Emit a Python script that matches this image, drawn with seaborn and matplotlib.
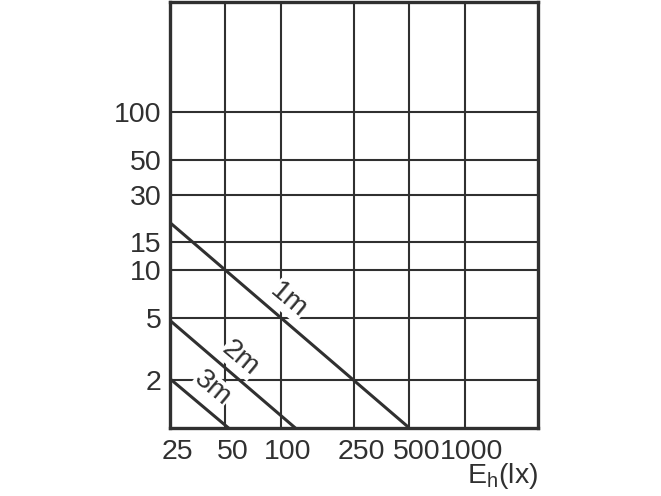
import pandas as pd
import seaborn as sns
import matplotlib.pyplot as plt
import matplotlib.transforms as mtransforms
from matplotlib.ticker import NullLocator

# values (log-log chart)
x_label_pos = [25, 50, 100, 250, 500, 1000]
x_labels = ["25", "50", "100", "250", "500", "1000"]
y_ticks = [2, 5, 10, 15, 30, 50, 100]
y_labels = ["2", "5", "10", "15", "30", "50", "100"]

distances = ["1m", "2m", "3m"]
line_x = [[25, 490], [25, 120], [25, 52]]
line_y = [[20, 1.02], [4.8, 1.0], [2.05, 1.0]]
label_xy = [(110, 6.4), (60, 2.76), (42.4, 1.78)]

rows = []
for d, xs, ys in zip(distances, line_x, line_y):
    for xv, yv in zip(xs, ys):
        rows.append({"distance": d, "E": xv, "h": yv})
df = pd.DataFrame(rows)

sns.set_style("white")
plt.rcParams["font.family"] = ["Liberation Sans", "DejaVu Sans"]
plt.rcParams["mathtext.fontset"] = "custom"
plt.rcParams["mathtext.rm"] = "Liberation Sans"

ink = "#303030"
fs = 20.5
fig = plt.figure(figsize=(6.61, 4.96), dpi=100)
ax = fig.add_axes([0.2572, 0.1371, 0.5567, 0.8589])

sns.lineplot(data=df, x="E", y="h", hue="distance",
             palette=[ink] * 3, linewidth=2.2, legend=False, ax=ax)

ax.set_xscale("log")
ax.set_yscale("log")
ax.set_xlim(25, 2500)
ax.set_ylim(1.0, 500)

ax.set_xticks(x_label_pos)
ax.set_xticklabels(x_labels)
ax.set_yticks(y_ticks)
ax.set_yticklabels(y_labels)
ax.xaxis.set_minor_locator(NullLocator())
ax.yaxis.set_minor_locator(NullLocator())
ax.tick_params(axis="x", length=0, labelsize=fs, labelcolor=ink, pad=8)
ax.tick_params(axis="y", length=0, labelsize=fs, labelcolor=ink, pad=6)

# x labels sit a little right of their grid lines in the reference
shift = mtransforms.ScaledTranslation(5 / 72, 0, fig.dpi_scale_trans)
for lbl in ax.get_xticklabels():
    lbl.set_transform(lbl.get_transform() + shift)

ax.grid(True, which="major", color=ink, linewidth=1.5)
for s in ax.spines.values():
    s.set_color(ink)
    s.set_linewidth(2.4)

ax.set_xlabel("")
ax.set_ylabel("")

for d, (tx, ty) in zip(distances, label_xy):
    ax.text(tx, ty, d, rotation=-40, fontsize=fs, color=ink,
            ha="center", va="center",
            bbox=dict(facecolor="white", edgecolor="none", pad=0.3))

ax.text(1.0, -0.113, r"E$_{\rm h}$(lx)", transform=ax.transAxes,
        ha="right", va="center", fontsize=fs, color=ink)

fig.savefig("out.png", dpi=100)
